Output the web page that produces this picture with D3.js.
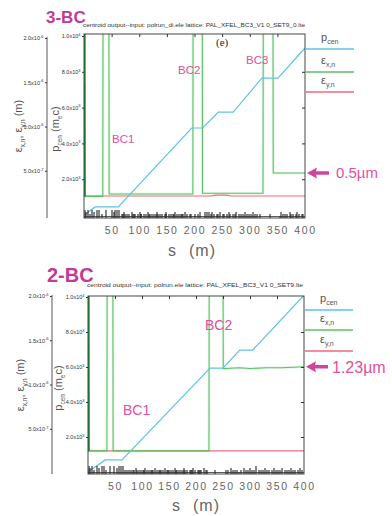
<!DOCTYPE html>
<html><head><meta charset="utf-8">
<script src="https://cdn.jsdelivr.net/npm/d3@7"></script>
<style>
body{margin:0;background:#fff}
svg{display:block;font-family:"Liberation Sans",Arial,sans-serif}
</style>
</head><body>
<svg id="c" width="392" height="516"></svg>
<script>
// ---------- shared tick values ----------
const sTicks = [50,100,150,200,250,300,350,400];
const emitTicks = [5e-7,1e-6,1.5e-6,2e-6];
const pcenTicks = [2000,4000,6000,8000,10000];
const legendItems = ["pcen","exn","eyn"];

// ---------- 3-BC data ----------
const bc3PcenS = [1,20,62,195,215,243,270,322,351,400];
const bc3Pcen  = [0,450,450,4860,4860,5750,5750,7650,7650,9330];
const bc3ExS   = [0,0.5,34,34.5,45,45.5,197,197.5,214,214.5,324,324.5,342,342.5,400];
const bc3Ex    = [2.5e-6,0.21e-6,0.21e-6,2.5e-6,2.5e-6,0.237e-6,0.237e-6,2.5e-6,2.5e-6,0.245e-6,0.245e-6,2.5e-6,2.5e-6,0.475e-6,0.475e-6];
const bc3EyS   = [0,230,238,258,266,400];
const bc3Ey    = [0.215e-6,0.215e-6,0.225e-6,0.225e-6,0.215e-6,0.215e-6];
const bc3LatS  = [1,4,8,11,15,19,23,28,33,40,50,54,57,60,63,
                  68,71,73,75,78,82,86,88,90,93,97,101,103,104,108,112,116,118,119,123,127,131,133,134,138,142,146,148,149,153,157,161,163,164,168,172,176,178,179,183,187,191,193,
                  200,206,210,
                  219,222,226,229,232,236,240,243,247,251,254,258,262,265,269,273,276,280,284,288,291,295,299,303,306,310,314,318,
                  336,
                  354,357,361,364,368,372,375,379,383,386,390,394,397];
const bc3LatT  = "qmqsqmqqsqqmqqq" +
                 "ssmsssmssssmssssmsssssmssssmsssssmsssssmsssssm" +
                 "mmm" +
                 "smsssmsssmsssmsssmsssmssss" +
                 "d" +
                 "msssmsssmssss";

// ---------- 2-BC data ----------
const bc2PcenS = [0,32,63,226,250,281,305,400];
const bc2Pcen  = [0,690,690,5940,5940,6970,6970,10100];
const bc2ExS   = [0,0.5,35,35.5,46,46.5,224,224.5,250,250.5,280,300,330,360,400];
const bc2Ex    = [2.5e-6,0.25e-6,0.25e-6,2.5e-6,2.5e-6,0.25e-6,0.25e-6,2.5e-6,2.5e-6,1.18e-6,1.19e-6,1.18e-6,1.19e-6,1.19e-6,1.2e-6];
const bc2EyS   = [0,400];
const bc2Ey    = [0.25e-6,0.25e-6];
const bc2LatS  = [1,4,8,12,16,20,25,30,34,40,48,53,57,61,64,
                  68,72,75,79,83,86,88,90,94,98,101,103,105,109,113,116,118,120,124,128,131,133,135,139,143,146,148,150,154,158,161,163,165,169,173,176,178,180,184,188,191,193,195,199,203,206,208,210,214,218,221,
                  235,
                  256,260,264,268,272,276,280,284,288,292,296,300,304,308,312,316,320,324,328,332,336,340,344,348,352,356,360,364,368,372,376,380,384,388,392,396];
const bc2LatT  = "qmqsqmqqsqqmqqq" +
                 "ssssssmsssssmsssssmsssssmsssssmsssssmsssssmsssssmsssssmsss" +
                 "d" +
                 "smssmssqsssmsssmsssmsssmsssm";

// ---------- panel layout ----------
const panels = [
  {title:"3-BC", tx:46, ty:23, tsize:17,
   header:"centroid  output--input:  polrun_di.ele    lattice:  PAL_XFEL_BC3_V1 0_SET9_0.lte", hx:83, hy:27, hw:222,
   left:84, right:305, top:34, bottom:218, emit0:215, emitTop:38, pcen0:215, pcenTop:36, emitAxisX:47,
   pcenS:bc3PcenS, pcen:bc3Pcen, exS:bc3ExS, ex:bc3Ex, eyS:bc3EyS, ey:bc3Ey, latS:bc3LatS, latT:bc3LatT,
   legY:[49,72,92], bcFont:11.5,
   bcLabels:[["BC1",112,143],["BC2",178,74],["BC3",246,64]],
   arrowText:"0.5\u00b5m", arrowFont:15, arrowGap:29, tag:["(e)",216,46],
   yLab1:[22,126], yLab2:[59,129], sLabY:256},
  {title:"2-BC", tx:47, ty:282, tsize:20,
   header:"centroid  output--input:  polrun.ele    lattice:  PAL_XFEL_BC3_V1 0_SET9.lte", hx:87, hy:287, hw:216,
   left:88, right:304, top:296, bottom:474, emit0:473, emitTop:296, pcen0:472, pcenTop:297, emitAxisX:52,
   pcenS:bc2PcenS, pcen:bc2Pcen, exS:bc2ExS, ex:bc2Ex, eyS:bc2EyS, ey:bc2Ey, latS:bc2LatS, latT:bc2LatT,
   legY:[310,330,351], bcFont:14,
   bcLabels:[["BC1",123,415],["BC2",205,330]],
   arrowText:"1.23\u00b5m", arrowFont:16, arrowGap:26, tag:null,
   yLab1:[24,385], yLab2:[62,388], sLabY:511}
];

const COL = {pcen:"#5ec3e4", ex:"#5cc066", exDark:"#1b9a3d", ey:"#ee6a78",
             title:"#c23b96", bc:"#e0509f", arrow:"#d0459a", axis:"#333", gray:"#666"};
const latH = {q:8, m:6, s:4, d:1.5};

const svg = d3.select("#c");

function sci(v){
  const e = Math.floor(Math.log10(v)+1e-9);
  return [(v/Math.pow(10,e)).toFixed(1)+"x10", String(e)];
}
function sciLabels(sel){
  sel.selectAll(".tick text").each(function(d){
    const t = d3.select(this).text("").attr("font-size",5.5).attr("fill",COL.axis)
      .attr("font-family","Liberation Sans, Arial, sans-serif");
    const [m,e] = sci(d);
    t.append("tspan").text(m);
    t.append("tspan").attr("font-size",4).attr("dy","-0.6em").text(e);
  });
}
function subText(sel, parts, size, subSize){
  let shifted = false;
  parts.forEach(([txt,isSub])=>{
    const ts = sel.append("tspan").text(txt).attr("font-size", isSub?subSize:size);
    if(isSub && !shifted){ ts.attr("dy", size*0.3); shifted=true; }
    else if(!isSub && shifted){ ts.attr("dy", -size*0.3); shifted=false; }
  });
}

panels.forEach((P,pi)=>{
  const g = svg.append("g");
  const x = d3.scaleLinear().domain([0,400]).range([P.left,P.right]);
  const yE = d3.scaleLinear().domain([0,2e-6]).range([P.emit0,P.emitTop]);
  const yP = d3.scaleLinear().domain([0,10000]).range([P.pcen0,P.pcenTop]);

  g.append("text").attr("x",P.tx).attr("y",P.ty).attr("font-size",P.tsize).attr("font-weight","bold")
    .attr("fill",COL.title).text(P.title);
  g.append("text").attr("x",P.hx).attr("y",P.hy).attr("font-size",5.5).attr("fill","#333")
    .attr("textLength",P.hw).attr("lengthAdjust","spacingAndGlyphs").text(P.header);

  const cid = "clip"+pi;
  g.append("clipPath").attr("id",cid).append("rect")
    .attr("x",P.left).attr("y",P.top).attr("width",P.right-P.left).attr("height",P.bottom-P.top);
  const plot = g.append("g").attr("clip-path",`url(#${cid})`);

  const lineE = d3.line().x(d=>x(d[0])).y(d=>yE(d[1]));
  const lineP = d3.line().x(d=>x(d[0])).y(d=>yP(d[1]));
  const exPts = P.exS.map((s,i)=>[s,P.ex[i]]);
  const eyPts = P.eyS.map((s,i)=>[s,P.ey[i]]);
  const pPts  = P.pcenS.map((s,i)=>[s,P.pcen[i]]);

  plot.append("path").attr("d",lineE(exPts)).attr("fill","none")
    .attr("stroke","#d6efd6").attr("stroke-width",3).attr("opacity",0.5);
  plot.append("path").attr("d",lineE(eyPts)).attr("fill","none")
    .attr("stroke",COL.ey).attr("stroke-width",1.1);
  plot.append("path").attr("d",lineE(exPts)).attr("fill","none")
    .attr("stroke",COL.ex).attr("stroke-width",1.1);
  plot.append("path").attr("d",lineE(exPts.slice(0,2))).attr("fill","none")
    .attr("stroke",COL.exDark).attr("stroke-width",3.2);
  plot.append("path").attr("d",lineP(pPts)).attr("fill","none")
    .attr("stroke",COL.pcen).attr("stroke-width",1.2);

  // lattice (drawn on top, along the bottom edge)
  const lat = g.append("g");
  lat.selectAll("rect").data(P.latS.map((s,i)=>({s,t:P.latT[i]||"s"}))).join("rect")
    .attr("x",d=>Math.round(x(d.s))-0.5)
    .attr("width",1)
    .attr("y",d=>P.bottom-latH[d.t])
    .attr("height",d=>latH[d.t])
    .attr("fill","#111");
  lat.append("rect").attr("x",P.left).attr("y",P.bottom-2).attr("width",P.right-P.left).attr("height",0.8)
    .attr("fill","#333");

  g.append("rect").attr("x",P.left).attr("y",P.top).attr("width",P.right-P.left).attr("height",P.bottom-P.top)
    .attr("fill","none").attr("stroke","#333").attr("stroke-width",0.9);

  g.append("g").attr("transform",`translate(0,${P.top})`)
    .call(d3.axisBottom(x).tickValues(sTicks.slice(0,-1)).tickSize(3).tickFormat(""))
    .call(a=>a.select(".domain").remove())
    .selectAll("line").attr("stroke","#333");
  g.append("g").attr("transform",`translate(${P.right},0)`)
    .call(d3.axisLeft(yP).tickValues(pcenTicks.slice(0,-1)).tickSize(3).tickFormat(""))
    .call(a=>a.select(".domain").remove())
    .selectAll("line").attr("stroke","#333");

  const xa = g.append("g").attr("transform",`translate(0,${P.bottom})`)
    .call(d3.axisBottom(x).tickValues(sTicks).tickSize(0).tickPadding(9));
  xa.select(".domain").remove();
  xa.selectAll("text").attr("font-size",10.5).attr("fill",COL.gray).attr("letter-spacing",1.6)
    .attr("font-family","Liberation Sans, Arial, sans-serif");

  const pa = g.append("g").attr("transform",`translate(${P.left},0)`)
    .call(d3.axisLeft(yP).tickValues(pcenTicks).tickSize(2).tickPadding(1.5));
  pa.select(".domain").remove();
  pa.selectAll(".tick line").attr("stroke","#333");
  sciLabels(pa);

  const ea = g.append("g").attr("transform",`translate(${P.emitAxisX},0)`)
    .call(d3.axisLeft(yE).tickValues(emitTicks).tickSize(2).tickPadding(1.5));
  ea.select(".domain").remove();
  ea.selectAll(".tick line").attr("stroke","#333");
  sciLabels(ea);
  g.append("line").attr("x1",P.emitAxisX).attr("x2",P.emitAxisX)
    .attr("y1",P.emitTop-1).attr("y2",P.bottom).attr("stroke","#444").attr("stroke-width",0.9);

  const l1 = g.append("text").attr("transform",`translate(${P.yLab1[0]},${P.yLab1[1]}) rotate(-90)`)
    .attr("text-anchor","middle").attr("fill","#555");
  subText(l1,[["\u03b5",false],["x,n",true],[",  \u03b5",false],["y,n",true],["  (m)",false]],11,6.5);
  const l2 = g.append("text").attr("transform",`translate(${P.yLab2[0]},${P.yLab2[1]}) rotate(-90)`)
    .attr("text-anchor","middle").attr("fill","#555");
  subText(l2,[["p",false],["cen",true],["  (m",false],["e",true],["c)",false]],11,6.5);

  g.append("text").attr("x",P.left+84).attr("y",P.sLabY).attr("font-size",16).attr("fill",COL.gray).text("s");
  g.append("text").attr("x",P.left+105).attr("y",P.sLabY).attr("font-size",16).attr("fill",COL.gray)
    .attr("letter-spacing",1).text("(m)");

  const legCol = {pcen:COL.pcen, exn:COL.ex, eyn:COL.ey};
  const legTxt = {pcen:[["p",false],["cen",true]], exn:[["\u03b5",false],["x,n",true]], eyn:[["\u03b5",false],["y,n",true]]};
  legendItems.forEach((k,i)=>{
    const ly = P.legY[i];
    g.append("line").attr("x1",P.right+1).attr("x2",P.right+49).attr("y1",ly).attr("y2",ly)
      .attr("stroke",legCol[k]).attr("stroke-width",1.6);
    const t = g.append("text").attr("x",P.right+16).attr("y",ly-8).attr("fill","#555");
    subText(t,legTxt[k],11,7);
  });

  if(P.tag){
    g.append("text").attr("x",P.tag[1]).attr("y",P.tag[2]).attr("font-size",11)
      .attr("font-family","Liberation Serif, DejaVu Serif, serif").attr("fill","#222").text(P.tag[0]);
  }

  P.bcLabels.forEach(([t,lx,ly])=>{
    g.append("text").attr("x",lx).attr("y",ly).attr("font-size",P.bcFont).attr("fill",COL.bc).text(t);
  });

  const ax0 = x(400)+2, ay = yE(P.ex[P.ex.length-1]);
  const arrow = d3.path();
  arrow.moveTo(ax0,ay);
  arrow.lineTo(ax0+10,ay-5.5);
  arrow.lineTo(ax0+9,ay-1.8);
  arrow.lineTo(ax0+22,ay-1.8);
  arrow.lineTo(ax0+22,ay+1.8);
  arrow.lineTo(ax0+9,ay+1.8);
  arrow.lineTo(ax0+10,ay+5.5);
  arrow.closePath();
  g.append("path").attr("d",arrow.toString()).attr("fill",COL.arrow);
  g.append("text").attr("x",ax0+P.arrowGap).attr("y",ay+P.arrowFont*0.36).attr("font-size",P.arrowFont)
    .attr("fill",COL.bc).text(P.arrowText);
});
</script>
</body></html>
